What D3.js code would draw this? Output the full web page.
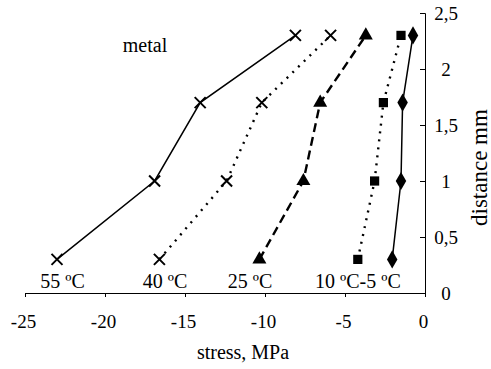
<!DOCTYPE html>
<html>
<head>
<meta charset="utf-8">
<script src="https://cdn.jsdelivr.net/npm/d3@7"></script>
<style>
  html, body { margin: 0; padding: 0; background: #fff; }
  svg { display: block; }
  svg text { font-family: "Liberation Serif", "DejaVu Serif", serif; fill: #000; }
</style>
</head>
<body>
<svg id="chart" width="491" height="369"></svg>
<script>
// Depth positions (mm) shared by every temperature series
const depths = [0.3, 1.0, 1.7, 2.3];

// Residual stress (MPa) per temperature
const stress55 = [-23, -16.9, -14.05, -8.1];
const stress40 = [-16.6, -12.4, -10.2, -5.9];
const stress25 = [-10.35, -7.6, -6.55, -3.7];
const stress10 = [-4.2, -3.15, -2.6, -1.5];
const stress5  = [-2.05, -1.5, -1.4, -0.75];

const seriesNames = ["55 ºC", "40 ºC", "25 ºC", "10 ºC", "-5 ºC"];

const xTicks = [-25, -20, -15, -10, -5, 0];
const yTicks = [0, 0.5, 1, 1.5, 2, 2.5];
const yTickLabels = ["0", "0,5", "1", "1,5", "2", "2,5"];

const serif = "Liberation Serif";
const svg = d3.select("#chart");

const x = d3.scaleLinear().domain([-25, 0]).range([25, 425]);
const y = d3.scaleLinear().domain([0, 2.5]).range([293, 13]);

// X axis along the bottom, ticks pointing down
const xAxis = svg.append("g")
  .attr("transform", `translate(0,${y(0)})`)
  .call(d3.axisBottom(x).tickValues(xTicks).tickSize(4)
    .tickFormat(d => String(d)));
xAxis.attr("font-family", serif);
xAxis.selectAll(".tick text")
  .attr("y", 35).attr("dy", null)
  .attr("dx", -2)
  .attr("font-size", 19).attr("fill", "#000");
xAxis.select(".domain").attr("stroke", "#000").attr("stroke-width", 1);
xAxis.selectAll(".tick line").attr("stroke", "#000");

// Y axis on the right at x = 0, ticks pointing into the plot
const yAxis = svg.append("g")
  .attr("transform", `translate(${x(0)},0)`)
  .call(d3.axisLeft(y).tickValues(yTicks).tickSizeInner(5).tickSizeOuter(5)
    .tickFormat((d, i) => yTickLabels[i]));
yAxis.attr("font-family", serif);
yAxis.select(".domain").attr("stroke", "#000").attr("stroke-width", 1);
yAxis.selectAll(".tick line").attr("stroke", "#000");
yAxis.selectAll(".tick text")
  .attr("x", 21).attr("text-anchor", "middle")
  .attr("font-size", 19).attr("fill", "#000");

// Axis titles
svg.append("text")
  .attr("x", 243).attr("y", 359)
  .attr("text-anchor", "middle").attr("font-size", 20)
  .attr("font-family", serif)
  .text("stress, MPa");
svg.append("text")
  .attr("transform", `translate(487,${y(1.12)}) rotate(-90)`)
  .attr("text-anchor", "middle").attr("font-size", 23)
  .attr("font-family", serif)
  .text("distance mm");

svg.append("text")
  .attr("x", 145).attr("y", 52)
  .attr("text-anchor", "middle").attr("font-size", 20)
  .attr("font-family", serif)
  .text("metal");

const line = d3.line().x(d => x(d[0])).y(d => y(d[1]));
const zip = vals => vals.map((v, i) => [v, depths[i]]);

const series = [
  { vals: stress55, dash: null, width: 1.5, marker: "cross" },
  { vals: stress40, dash: "2,6", width: 2.4, marker: "cross" },
  { vals: stress25, dash: "9,5", width: 2.4, marker: "triangle" },
  { vals: stress10, dash: "2,6", width: 2.4, marker: "square" },
  { vals: stress5,  dash: null, width: 1.5, marker: "diamond" }
];

series.forEach(s => {
  svg.append("path")
    .datum(zip(s.vals))
    .attr("fill", "none").attr("stroke", "#000")
    .attr("stroke-width", s.width)
    .attr("stroke-dasharray", s.dash)
    .attr("d", line);
});

const symbols = {
  triangle: d3.symbol().type(d3.symbolTriangle).size(85),
  square: d3.symbol().type(d3.symbolSquare).size(85),
  diamond: d3.symbol().type(d3.symbolDiamond).size(95)
};

series.forEach(s => {
  const pts = zip(s.vals);
  if (s.marker === "cross") {
    const g = svg.append("g");
    pts.forEach(p => {
      const cx = x(p[0]), cy = y(p[1]), r = 5.5;
      g.append("path")
        .attr("d", `M${cx - r},${cy - r}L${cx + r},${cy + r}M${cx - r},${cy + r}L${cx + r},${cy - r}`)
        .attr("stroke", "#000").attr("stroke-width", 2).attr("fill", "none");
    });
  } else {
    svg.append("g").selectAll("path")
      .data(pts).join("path")
      .attr("transform", d => `translate(${x(d[0])},${y(d[1])})`)
      .attr("d", symbols[s.marker])
      .attr("fill", "#000");
  }
});

// Temperature labels under the lowest points
const labelG = svg.append("g").attr("font-family", serif).attr("font-size", 20);
[[62.5, 0], [165, 1], [250, 2]].forEach(([lx, i]) => {
  labelG.append("text").attr("x", lx).attr("y", 288)
    .attr("text-anchor", "middle").text(seriesNames[i]);
});
const pair = labelG.append("text").attr("x", 315).attr("y", 288);
pair.append("tspan").text(seriesNames[3]);
pair.append("tspan").text(seriesNames[4]);
</script>
</body>
</html>
